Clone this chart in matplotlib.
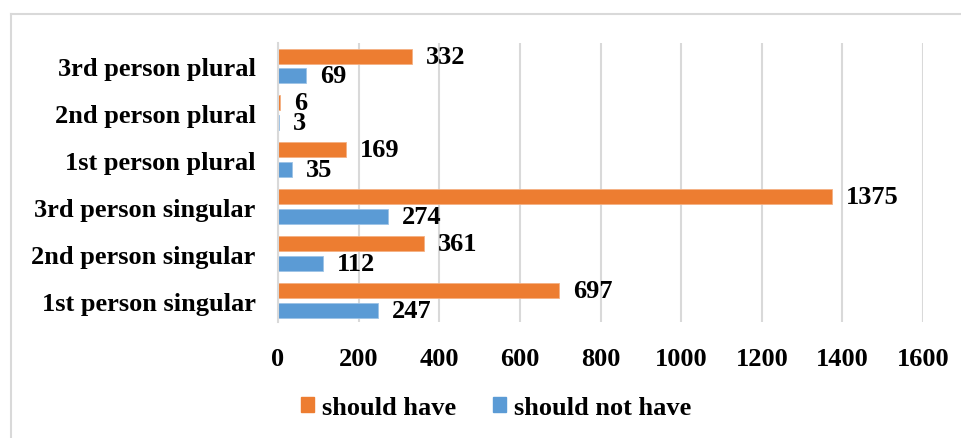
import matplotlib.pyplot as plt
from matplotlib.lines import Line2D
from matplotlib.patches import Patch
import numpy as np

categories = ['1st person singular', '2nd person singular', '3rd person singular',
              '1st person plural', '2nd person plural', '3rd person plural']
should_have = [697, 361, 1375, 169, 6, 332]
should_not_have = [247, 112, 274, 35, 3, 69]
x_ticks = [0, 200, 400, 600, 800, 1000, 1200, 1400, 1600]

plt.rcParams['font.family'] = ['Liberation Serif', 'DejaVu Serif']
plt.rcParams['font.weight'] = 'bold'

orange = '#ED7D31'
blue = '#5B9BD5'
fs = 19

fig = plt.figure(figsize=(9.61, 4.39), dpi=100)
ax = fig.add_axes([0.2893, 0.264, 0.6712, 0.636])

y = np.arange(len(categories))
h = 0.32
b1 = ax.barh(y + 0.21, should_have, height=h, color=orange, edgecolor='#F4B183', linewidth=0.6)
b2 = ax.barh(y - 0.21, should_not_have, height=h, color=blue, edgecolor='#9DC3E6', linewidth=0.6)
ax.bar_label(b1, padding=10, fontsize=fs, fontweight='bold')
ax.bar_label(b2, padding=10, fontsize=fs, fontweight='bold')

ax.set_xlim(0, 1600)
ax.set_ylim(-0.46, 5.49)
ax.set_xticks(x_ticks)
ax.set_xticklabels([str(t) for t in x_ticks], fontsize=fs, fontweight='bold')
ax.set_yticks(y)
ax.set_yticklabels(categories, fontsize=fs, fontweight='bold')
ax.tick_params(axis='both', length=0)
ax.tick_params(axis='x', pad=18)
ax.tick_params(axis='y', pad=16)
ax.grid(axis='x', color='#D9D9D9', linewidth=1.5)
ax.set_axisbelow(True)
for s in ['top', 'right', 'bottom']:
    ax.spines[s].set_visible(False)
ax.spines['left'].set_color('#D9D9D9')
ax.spines['left'].set_linewidth(1.5)

handles = [Patch(color=orange, label='should have'), Patch(color=blue, label='should not have')]
fig.legend(handles=handles, loc='center', bbox_to_anchor=(0.516, 0.07), ncol=2, frameon=False,
           prop={'size': fs, 'weight': 'bold'}, handlelength=0.5, handleheight=0.5,
           handletextpad=0.3, columnspacing=1.4)

# outer border (left and top only visible)
fig.add_artist(Line2D([11/961, 11/961], [0, 1 - 15/439], color='#D9D9D9', lw=1.5))
fig.add_artist(Line2D([11/961, 1], [1 - 15/439, 1 - 15/439], color='#D9D9D9', lw=1.5))

fig.savefig('out.png', dpi=100)
